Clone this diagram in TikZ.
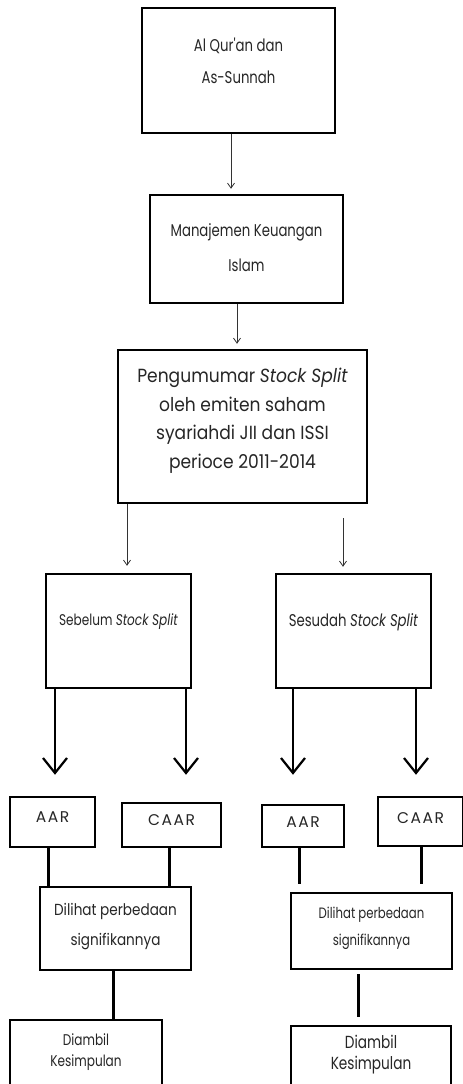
\documentclass[tikz,border=0pt]{standalone}
\usepackage{fontspec}
\newfontfamily\gothic[FakeStretch=0.78]{Poppins}
\newfontfamily\gothicm[FakeStretch=0.85]{Poppins}
\newfontfamily\gothicn[FakeStretch=0.9]{Poppins}
\newfontfamily\gothicw[LetterSpace=10]{Poppins}
\usetikzlibrary{arrows.meta}
\tikzset{
  box/.style={draw=black, line width=2.5pt, fill=white, inner sep=0pt},
  txt/.style={text=black!85, align=center, inner sep=0pt},
  thinarr/.style={draw=black!80, line width=0.8pt, -{Straight Barb[length=5pt,width=7pt]}},
  thickarr/.style={draw=black, line width=2.2pt, -{Straight Barb[length=15pt,width=24pt,line width=2.2pt]}},
  thickline/.style={draw=black, line width=3pt},
}
\begin{document}
\begin{tikzpicture}[x=1pt,y=-1pt]
\useasboundingbox (0,0) rectangle (463,1084);
\clip (0,0) rectangle (463,1084);
% boxes
\node[box, minimum width=193pt, minimum height=125pt] (b1) at (238.5,70.5) {};
\node[box, minimum width=193pt, minimum height=108pt] (b2) at (246.5,249) {};
\node[box, minimum width=249pt, minimum height=153pt] (b3) at (242.5,426.5) {};
\node[box, minimum width=145pt, minimum height=114pt] (b4) at (118.5,631) {};
\node[box, minimum width=155pt, minimum height=114pt] (b5) at (353.5,631) {};
\node[box, minimum width=85pt, minimum height=50pt] (aarl) at (52.5,822) {};
\node[box, minimum width=99pt, minimum height=44pt] (caarl) at (171.5,825) {};
\node[box, minimum width=82pt, minimum height=42pt] (aarr) at (303,826) {};
\node[box, minimum width=85pt, minimum height=49pt] (caarr) at (420.5,821.5) {};
\node[box, minimum width=151pt, minimum height=83pt] (dill) at (115.5,928.5) {};
\node[box, minimum width=161pt, minimum height=76pt] (dilr) at (371.5,931) {};
\node[box, minimum width=152pt, minimum height=72pt] (diaml) at (86,1056) {};
\node[box, minimum width=160pt, minimum height=66pt] (diamr) at (371,1059) {};
% texts
\node[txt, font=\gothic\fontsize{17}{32}\selectfont] (t1) at (238.5,61) {Al Qur'an dan\\As-Sunnah};
\node[txt, font=\gothic\fontsize{17}{35}\selectfont] (t2) at (246.5,247.5) {Manajemen Keuangan\\Islam};
\node[txt, font=\gothicn\fontsize{19}{28.5}\selectfont] (t3) at (242.5,420.5) {Pengumumar \textit{Stock Split}\\oleh emiten saham\\syariahdi JII dan ISSI\\perioce 2011-2014};
\node[txt, font=\gothic\fontsize{15.5}{18}\selectfont] (t4) at (118.5,622) {Sebelum \textit{Stock Split}};
\node[txt, font=\gothic\fontsize{17}{18}\selectfont] (t5) at (353.5,622) {Sesudah \textit{Stock Split}};
\node[txt, font=\gothicw\fontsize{15.5}{16}\selectfont] (t6) at (52.5,817) {AAR};
\node[txt, font=\gothicw\fontsize{15.5}{16}\selectfont] (t7) at (171.5,820) {CAAR};
\node[txt, font=\gothicw\fontsize{15.5}{16}\selectfont] (t8) at (303,822) {AAR};
\node[txt, font=\gothicw\fontsize{15.5}{16}\selectfont] (t9) at (420.5,818) {CAAR};
\node[txt, font=\gothicm\fontsize{16}{30}\selectfont] (t10) at (115.5,927) {Dilihat perbedaan\\signifikannya};
\node[txt, font=\gothic\fontsize{15}{27}\selectfont] (t11) at (371.5,928.5) {Dilihat perbedaan\\signifikannya};
\node[txt, font=\gothic\fontsize{15.5}{21}\selectfont] (t12) at (86,1052.5) {Diambil\\Kesimpulan};
\node[txt, font=\gothic\fontsize{17.5}{21}\selectfont] (t13) at (371,1054.5) {Diambil\\Kesimpulan};
% thin arrows
\draw[thinarr] ([xshift=-7.5pt]b1.south) -- ([xshift=-15.5pt,yshift=5pt]b2.north);
\draw[thinarr] ([xshift=-9.5pt]b2.south) -- ([xshift=-5.5pt,yshift=5pt]b3.north);
\draw[thinarr] ([xshift=-115.5pt]b3.south) -- ([xshift=8.5pt,yshift=7pt]b4.north);
\draw[thinarr] ([xshift=100.5pt,yshift=-14pt]b3.south) -- ([xshift=-10.5pt,yshift=6pt]b5.north);
% thick arrows
\draw[thickarr] ([xshift=-63.5pt]b4.south) -- ([xshift=2.5pt,yshift=21pt]aarl.north);
\draw[thickarr] ([xshift=67.5pt]b4.south) -- ([xshift=14.5pt,yshift=27pt]caarl.north);
\draw[thickarr] ([xshift=-60.5pt]b5.south) -- ([xshift=-10pt,yshift=29pt]aarr.north);
\draw[thickarr] ([xshift=62.5pt]b5.south) -- ([xshift=-4.5pt,yshift=21pt]caarr.north);
% thick lines
\draw[thickline] ([xshift=-4.5pt]aarl.south) -- ([xshift=-67.5pt]dill.north);
\draw[thickline] ([xshift=-2.5pt]caarl.south) -- ([xshift=53.5pt]dill.north);
\draw[thickline] ([xshift=-4pt]aarr.south) -- ([xshift=-72.5pt,yshift=8pt]dilr.north);
\draw[thickline] ([xshift=0.5pt]caarr.south) -- ([xshift=49.5pt,yshift=8pt]dilr.north);
\draw[thickline] ([xshift=-2.5pt]dill.south) -- ([xshift=27pt]diaml.north);
\draw[thickline] ([xshift=-13.5pt,yshift=-4pt]dilr.south) -- ([xshift=-13pt,yshift=8pt]diamr.north);
\end{tikzpicture}
\end{document}
